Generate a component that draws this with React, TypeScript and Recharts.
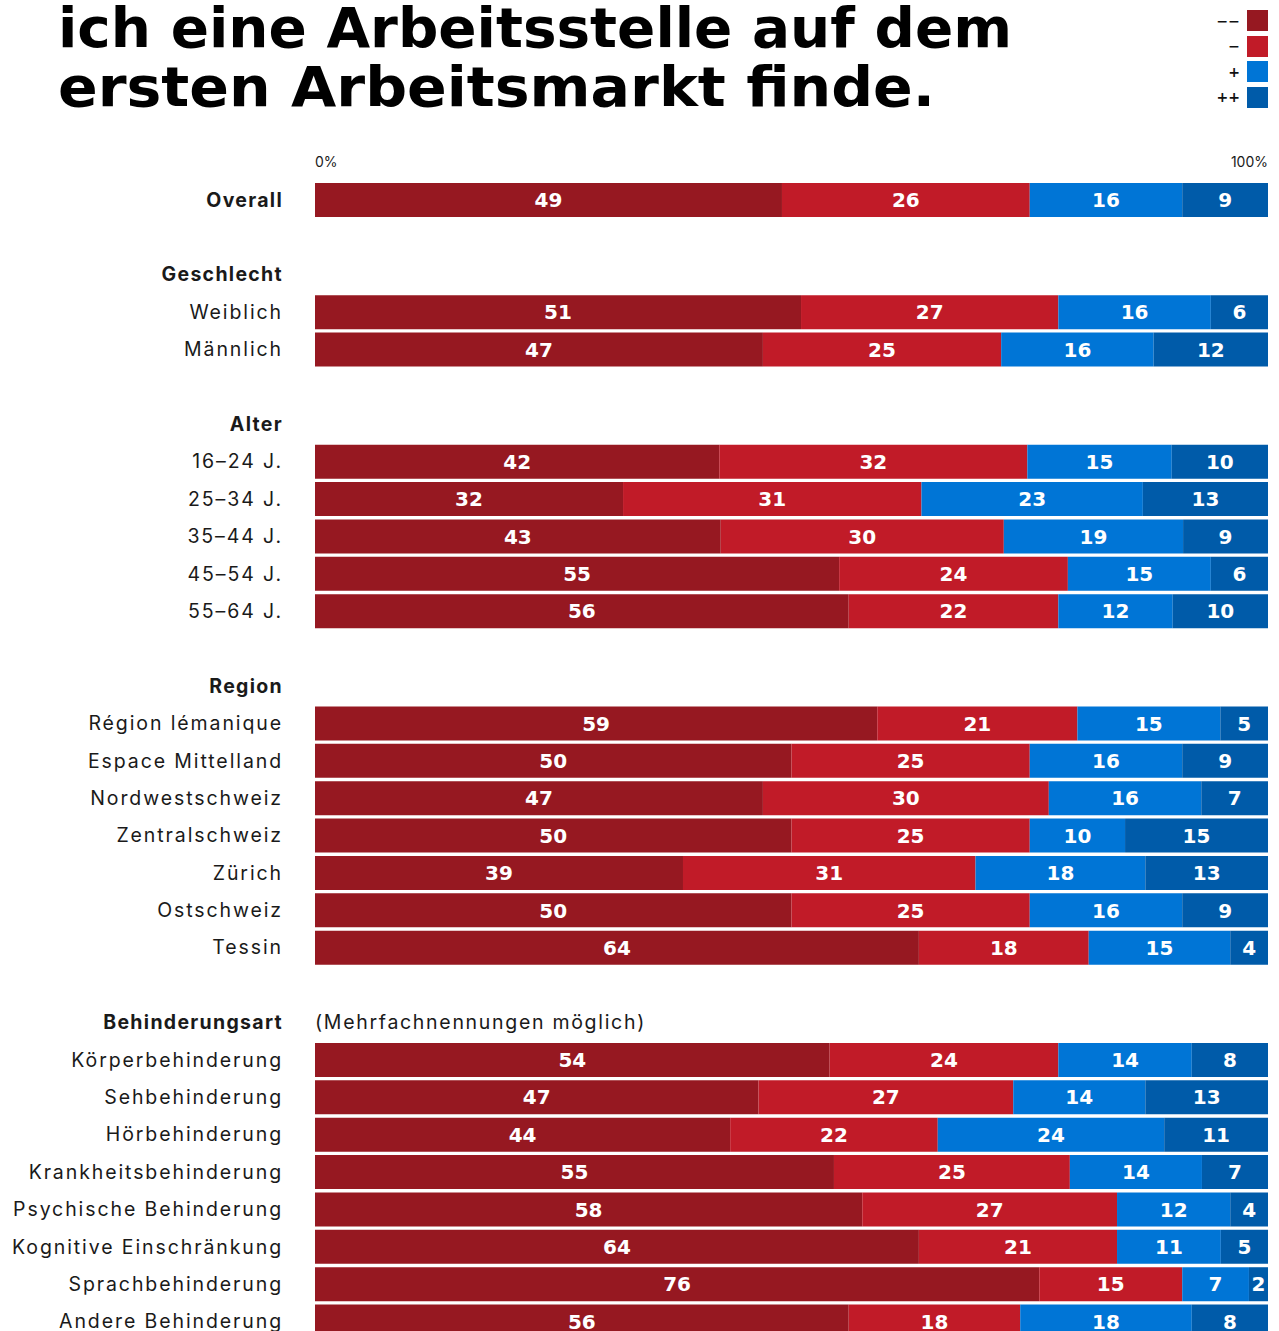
import React from 'react';
import { BarChart, Bar, XAxis, YAxis, LabelList, Legend } from 'recharts';

const categories = [
  'Overall', '', 'Geschlecht', 'Weiblich', 'Männlich', '', 'Alter',
  '16–24 J.', '25–34 J.', '35–44 J.', '45–54 J.', '55–64 J.', '', 'Region',
  'Région lémanique', 'Espace Mittelland', 'Nordwestschweiz', 'Zentralschweiz', 'Zürich', 'Ostschweiz', 'Tessin',
  '', 'Behinderungsart',
  'Körperbehinderung', 'Sehbehinderung', 'Hörbehinderung', 'Krankheitsbehinderung',
  'Psychische Behinderung', 'Kognitive Einschränkung', 'Sprachbehinderung', 'Andere Behinderung',
];

const veryNegative = [49, null, null, 51, 47, null, null, 42, 32, 43, 55, 56, null, null, 59, 50, 47, 50, 39, 50, 64, null, null, 54, 47, 44, 55, 58, 64, 76, 56];
const negative = [26, null, null, 27, 25, null, null, 32, 31, 30, 24, 22, null, null, 21, 25, 30, 25, 31, 25, 18, null, null, 24, 27, 22, 25, 27, 21, 15, 18];
const positive = [16, null, null, 16, 16, null, null, 15, 23, 19, 15, 12, null, null, 15, 16, 16, 10, 18, 16, 15, null, null, 14, 14, 24, 14, 12, 11, 7, 18];
const veryPositive = [9, null, null, 6, 12, null, null, 10, 13, 9, 6, 10, null, null, 5, 9, 7, 15, 13, 9, 4, null, null, 8, 13, 11, 7, 4, 5, 2, 8];

const seriesNames = ['−−', '−', '+', '++'];
const seriesKeys = ['vn', 'n', 'p', 'vp'];
const seriesColors = ['#961821', '#c11b28', '#0075d6', '#005ba9'];

const boldLabels = ['Overall', 'Geschlecht', 'Alter', 'Region', 'Behinderungsart'];
const notes: Record<string, string> = { Behinderungsart: '(Mehrfachnennungen möglich)' };

const titleLines = ['ich eine Arbeitsstelle auf dem', 'ersten Arbeitsmarkt finde.'];
const xTicks = [0, 1];

const data = categories.map((c, i) => ({
  idx: i,
  vn: veryNegative[i],
  n: negative[i],
  p: positive[i],
  vp: veryPositive[i],
}));

const LABEL_FONT = 'Inter, "Noto Sans", sans-serif';

const YTick = (props: any) => {
  const { x, y, payload } = props;
  const label = categories[payload.value];
  if (!label) return null;
  const bold = boldLabels.includes(label);
  return (
    <g>
      <text x={x} y={y} dy="0.36em" textAnchor="end" fontFamily={LABEL_FONT} fontSize={19.5}
        fontWeight={bold ? 700 : 400} letterSpacing={bold ? 1.3 : 1.9} fill="#1a1a1a">{label}</text>
      {notes[label] ? (
        <text x={x + 32} y={y} dy="0.36em" textAnchor="start" fontFamily={LABEL_FONT} fontSize={19.5}
          letterSpacing={1.7} fill="#1a1a1a">{notes[label]}</text>
      ) : null}
    </g>
  );
};

const XTick = (props: any) => {
  const { x, y, payload } = props;
  return (
    <text x={x} y={y - 14} textAnchor={payload.value === 0 ? 'start' : 'end'} fontFamily={LABEL_FONT}
      fontSize={14} fill="#1a1a1a">{`${Math.round(payload.value * 100)}%`}</text>
  );
};

const BarLabel = (props: any) => {
  const { x, y, width, height, value } = props;
  if (!value) return null;
  return (
    <text x={Number(x) + Number(width) / 2} y={Number(y) + Number(height) / 2} dy="0.36em" textAnchor="middle"
      fill="#ffffff" fontFamily='"DejaVu Sans", sans-serif' fontWeight={700} fontSize={20}>{value}</text>
  );
};

const LegendContent = (props: any) => {
  const items = [...(props.payload || [])].sort(
    (a: any, b: any) => seriesNames.indexOf(a.value) - seriesNames.indexOf(b.value)
  );
  return (
    <div style={{ display: 'flex', flexDirection: 'column', alignItems: 'flex-end' }}>
      {items.map((p: any) => (
        <div key={p.value} style={{ display: 'flex', alignItems: 'center', height: 21, marginBottom: 4.5 }}>
          <span style={{ fontFamily: '"DejaVu Sans", sans-serif', fontWeight: 700, fontSize: 14, color: '#111', marginRight: 7 }}>{p.value}</span>
          <span style={{ display: 'inline-block', width: 21, height: 21, background: p.color }} />
        </div>
      ))}
    </div>
  );
};

export default function App() {
  return (
    <div style={{ position: 'absolute', left: 0, top: 0, width: 1279, height: 1331, overflow: 'hidden', background: '#fff' }}>
      <svg width={1279} height={130} style={{ position: 'absolute', left: 0, top: 0 }}>
        {titleLines.map((t, i) => (
          <text key={i} x={58} y={47 + i * 59} fontFamily='"DejaVu Sans", sans-serif' fontWeight={700} fontSize={56}
            textLength={i === 0 ? 954 : 877} lengthAdjust="spacingAndGlyphs" fill="#000">{t}</text>
        ))}
      </svg>
      <div style={{ position: 'absolute', left: 0, top: 0 }}>
        <BarChart width={1279} height={1340} data={data} layout="vertical" stackOffset="expand"
          margin={{ top: 151, right: 11, bottom: 0, left: 0 }} barSize={34}>
          <XAxis type="number" orientation="top" domain={[0, 1]} ticks={xTicks} height={30}
            axisLine={false} tickLine={false} tickSize={0} tickMargin={0} tick={XTick} />
          <YAxis type="category" dataKey="idx" width={315} axisLine={false} tickLine={false}
            tickSize={0} tickMargin={32} tick={YTick} interval={0} />
          <Legend layout="vertical" align="center" verticalAlign="middle" content={LegendContent}
            wrapperStyle={{ position: 'absolute', top: 10, right: 11, left: 'auto', bottom: 'auto', width: 'auto' }} />
          {seriesKeys.map((k, i) => (
            <Bar key={k} dataKey={k} name={seriesNames[i]} stackId="a" fill={seriesColors[i]} isAnimationActive={false}>
              <LabelList dataKey={k} content={BarLabel} />
            </Bar>
          ))}
        </BarChart>
      </div>
    </div>
  );
}
